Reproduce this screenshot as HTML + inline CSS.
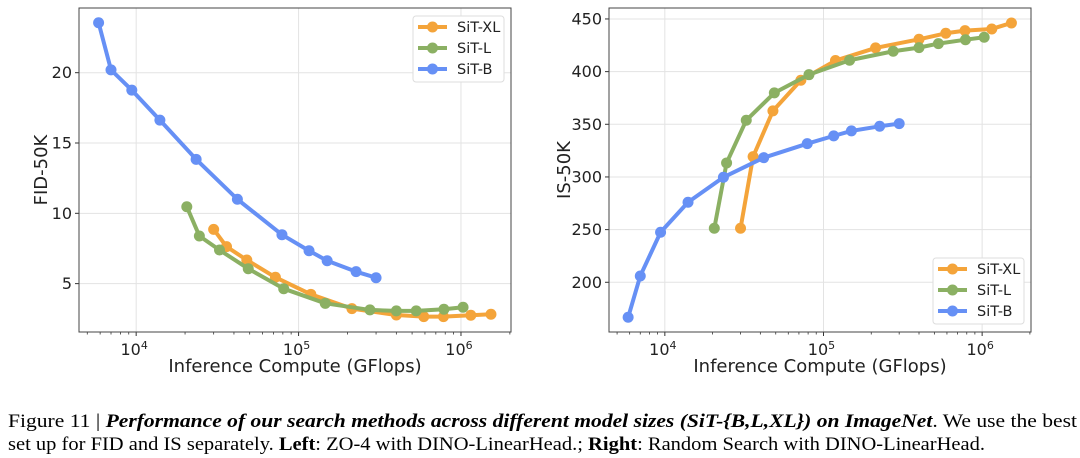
<!DOCTYPE html>
<html><head><meta charset="utf-8">
<style>
html,body{margin:0;padding:0;background:#fff;width:1080px;height:458px;overflow:hidden}
svg{display:block}
</style></head>
<body>
<svg id="fig" width="1080" height="458" xmlns="http://www.w3.org/2000/svg" font-family="'DejaVu Sans','Liberation Sans',sans-serif">
<text x="8" y="427" font-family="'Liberation Serif',serif" font-size="19" textLength="1069" lengthAdjust="spacingAndGlyphs">Figure 11 | <tspan font-weight="bold" font-style="italic">Performance of our search methods across different model sizes (SiT-{B,L,XL}) on ImageNet</tspan>. We use the best</text>
<text x="8" y="450" font-family="'Liberation Serif',serif" font-size="19" textLength="977" lengthAdjust="spacingAndGlyphs">set up for FID and IS separately. <tspan font-weight="bold">Left</tspan>: ZO-4 with DINO-LinearHead.; <tspan font-weight="bold">Right</tspan>: Random Search with DINO-LinearHead.</text>
</svg>
<script>
const seriesNames = ["SiT-XL","SiT-L","SiT-B"];
const xlComputeX = [3.0e4,3.6e4,4.8e4,7.2e4,1.19e5,2.13e5,4.0e5,5.9e5,7.8e5,1.15e6,1.53e6];
const lComputeX = [2.05e4,2.45e4,3.26e4,4.9e4,8.1e4,1.46e5,2.75e5,4.0e5,5.3e5,7.85e5,1.03e6];
const bComputeX = [5.87e3,7.0e3,9.4e3,1.4e4,2.34e4,4.2e4,7.9e4,1.16e5,1.5e5,2.26e5,3.0e5];
const xlFid = [8.86,7.63,6.68,5.45,4.24,3.22,2.77,2.65,2.65,2.75,2.82];
const lFid = [10.47,8.39,7.39,6.06,4.64,3.6,3.13,3.06,3.06,3.18,3.32];
const bFid = [23.55,20.2,18.76,16.63,13.84,11.0,8.48,7.34,6.63,5.85,5.42];
const xlIs = [251.3,319.3,362.7,391.8,410.5,422.5,430.7,436.4,438.9,440.5,446.2];
const lIs = [251.3,313.3,353.8,379.8,397.1,410.8,419.3,422.8,426.6,430.3,432.6];
const bIs = [166.8,206,247.5,276,299.7,318.3,331.6,339,343.7,348.1,350.6];
const fidTicks = [5,10,15,20];
const isTicks = [200,250,300,350,400,450];
const xDecades = [4,5,6];

const colors = ["#F4A43A","#8BB063","#6690F5"];
const NS="http://www.w3.org/2000/svg";
const svg=document.getElementById('fig');
function mk(tag,attrs,parent){const e=document.createElementNS(NS,tag);for(const k in attrs)e.setAttribute(k,attrs[k]);(parent||svg).appendChild(e);return e;}

function chart(cfg){
  const g=mk('g',{});
  
  
  const L=cfg.left,R=cfg.right,T=8,B=332;
  const xmin=3.648,xmax=6.308;
  const sx=v=>L+(Math.log10(v)-xmin)/(xmax-xmin)*(R-L);
  const sy=v=>B-(v-cfg.ymin)/(cfg.ymax-cfg.ymin)*(B-T);
  xDecades.forEach(d=>{const x=sx(Math.pow(10,d));
    const l=mk('line',{x1:x,x2:x,y1:T,y2:B,stroke:'#e3e3e3','stroke-width':1},g);
    
    
  });
  cfg.ticks.forEach(t=>{const y=sy(t);
    const l=mk('line',{x1:L,x2:R,y1:y,y2:y,stroke:'#e3e3e3','stroke-width':1},g);
    
    
    mk('line',{x1:L-4,x2:L,y1:y,y2:y,stroke:'#333','stroke-width':1},g);
    const tx=mk('text',{x:L-7,y:y+5.5,'text-anchor':'end','font-size':16,fill:'#222'},g);
    tx.textContent=t;
    
    
  });
  for(let d=3;d<=6;d++)for(let m=1;m<=9;m++){const v=m*Math.pow(10,d);const lv=Math.log10(v);
    if(lv<xmin||lv>xmax)continue;const x=sx(v);
    mk('line',{x1:x,x2:x,y1:B,y2:B+(m===1?4:2.5),stroke:'#333','stroke-width':m===1?1:0.8},g);}
  xDecades.forEach(d=>{const x=sx(Math.pow(10,d));
    const tx=mk('text',{x:x-2,y:B+23,'text-anchor':'middle','font-size':16,fill:'#222'},g);
    tx.innerHTML='10<tspan dy="-6" font-size="11">'+d+'</tspan>';
    
    
  });
  const fr=mk('rect',{x:L,y:T,width:R-L,height:B-T,fill:'none',stroke:'#444','stroke-width':1},g);
  
  
  const xs=[xlComputeX,lComputeX,bComputeX];
  cfg.ys.forEach((ys,i)=>{
    const pts=ys.map((v,j)=>sx(xs[i][j])+','+sy(v)).join(' ');
    const pl=mk('polyline',{points:pts,fill:'none',stroke:colors[i],'stroke-width':4,'stroke-linejoin':'round'},g);
    
    
    ys.forEach((v,j)=>{
      const c=mk('circle',{cx:sx(xs[i][j]),cy:sy(v),r:5.5,fill:colors[i]},g);
      
      
    });
  });
  const xt=mk('text',{x:(L+R)/2,y:372,'text-anchor':'middle','font-size':18,fill:'#222'},g);
  xt.textContent='Inference Compute (GFlops)';
  
  
  const yt=mk('text',{x:0,y:0,'text-anchor':'middle','font-size':18,fill:'#222',transform:'translate('+cfg.ytx+','+cfg.yty+') rotate(-90)'},g);
  yt.textContent=cfg.ytitle;
  
  
  const lg=mk('g',{},g);
  
  
  mk('rect',{x:cfg.lx,y:cfg.ly,width:91,height:66,rx:3,fill:'#fff',stroke:'#ddd','stroke-width':1},lg);
  seriesNames.forEach((n,i)=>{const y=cfg.ly+11+i*21;
    const e=mk('g',{},lg);
    
    
    mk('line',{x1:cfg.lx+5,x2:cfg.lx+34,y1:y,y2:y,stroke:colors[i],'stroke-width':4},e);
    mk('circle',{cx:cfg.lx+19.5,cy:y,r:5.5,fill:colors[i]},e);
    const t=mk('text',{x:cfg.lx+44,y:y+5,'font-size':14.5,fill:'#222'},e);t.textContent=n;
  });
}
chart({name:'fid-chart',left:79,right:511,ymin:1.56,ymax:24.6,ticks:fidTicks,ys:[xlFid,lFid,bFid],ytitle:'FID-50K',ytx:47,yty:170,lx:413,ly:16});
chart({name:'is-chart',left:609,right:1031,ymin:152.8,ymax:460.4,ticks:isTicks,ys:[xlIs,lIs,bIs],ytitle:'IS-50K',ytx:570,yty:170,lx:933,ly:258});
</script>
</body></html>
